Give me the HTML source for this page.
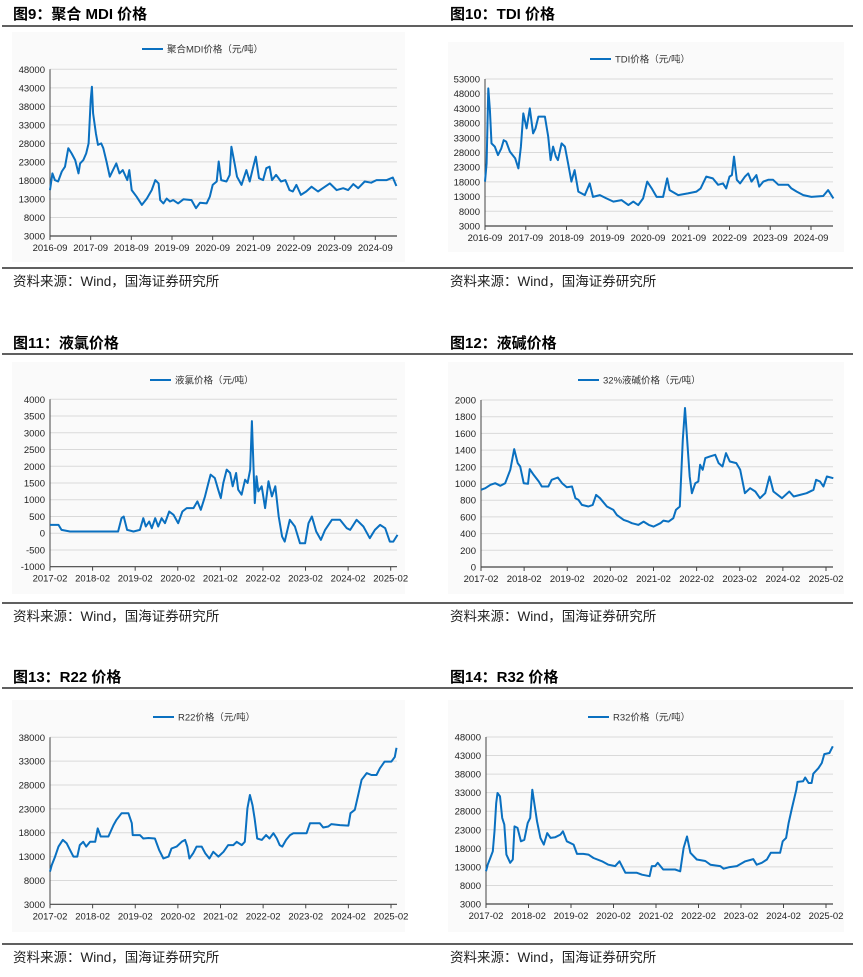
<!DOCTYPE html>
<html><head><meta charset="utf-8">
<style>
html,body{margin:0;padding:0;background:#fff;}
#root{position:relative;width:863px;height:977px;overflow:hidden;}
svg text{font-family:"Liberation Sans","Noto Sans CJK SC",sans-serif;}
</style></head>
<body>
<div id="root">
<svg id="s" width="863" height="977" viewBox="0 0 863 977" xmlns="http://www.w3.org/2000/svg"></svg>
</div>
<script>
// ---------- data (dates in decimal years) ----------
var mdiDates=[2016.67,2016.73,2016.79,2016.87,2016.96,2017.04,2017.12,2017.20,2017.29,2017.37,2017.41,2017.49,2017.56,2017.62,2017.67,2017.70,2017.73,2017.80,2017.85,2017.93,2017.98,2018.06,2018.14,2018.22,2018.30,2018.38,2018.46,2018.57,2018.62,2018.68,2018.80,2018.93,2019.05,2019.17,2019.26,2019.34,2019.38,2019.46,2019.54,2019.62,2019.70,2019.82,2019.95,2020.15,2020.26,2020.36,2020.52,2020.60,2020.67,2020.77,2020.82,2020.88,2021.01,2021.09,2021.13,2021.21,2021.27,2021.38,2021.50,2021.58,2021.66,2021.73,2021.81,2021.91,2021.99,2022.07,2022.13,2022.23,2022.35,2022.46,2022.56,2022.64,2022.73,2022.84,2022.97,2023.10,2023.26,2023.38,2023.55,2023.72,2023.88,2024.00,2024.13,2024.25,2024.41,2024.57,2024.70,2024.95,2025.10,2025.19];
var mdiValues=[15400,19900,18100,17700,20400,21700,26700,25300,23500,19900,22600,23500,25300,28000,39700,43300,36100,30700,27600,28000,26700,23100,19000,20800,22600,19900,20800,18100,20800,15400,13600,11400,13100,15400,18100,17200,12700,11800,13100,12300,12700,11800,12900,12700,10500,12000,11800,13600,16800,17700,23100,18100,17700,19500,27100,22600,19000,16800,20800,17700,21300,24400,18600,18100,21300,21700,18100,19500,17700,18100,15400,15000,16800,14100,15000,16300,15000,15900,17200,15400,15900,15400,17000,15900,17700,17400,18100,18100,18800,16500];

var tdiDates=[2016.67,2016.71,2016.75,2016.79,2016.83,2016.91,2016.99,2017.07,2017.13,2017.19,2017.28,2017.41,2017.49,2017.55,2017.61,2017.69,2017.77,2017.85,2017.91,2017.98,2018.14,2018.22,2018.28,2018.34,2018.41,2018.46,2018.55,2018.63,2018.71,2018.79,2018.87,2018.96,2019.12,2019.24,2019.32,2019.49,2019.65,2019.82,2020.02,2020.19,2020.31,2020.43,2020.55,2020.65,2020.76,2020.88,2021.04,2021.14,2021.20,2021.41,2021.65,2021.86,2021.96,2022.10,2022.26,2022.39,2022.51,2022.59,2022.67,2022.73,2022.78,2022.85,2022.93,2023.05,2023.13,2023.21,2023.33,2023.40,2023.50,2023.62,2023.74,2023.87,2024.11,2024.19,2024.32,2024.48,2024.68,2024.97,2025.09,2025.22];
var tdiValues=[18100,24300,49800,42500,31100,30000,27100,29400,32200,31700,28300,26000,22600,30000,41300,36200,43000,34500,36200,40200,40200,33400,25400,30000,26600,25400,31100,30000,24300,18100,22000,14700,13500,17500,12900,13500,12400,11300,11800,10100,11300,10100,12400,18100,15800,12900,12900,19200,15200,13500,14100,14700,15800,19800,19200,17000,17500,15800,19800,20300,26600,18700,17500,19800,20900,18100,20300,16400,18100,18700,18700,17000,17000,15800,14700,13500,12900,13200,15200,12400];

var clDates=[2017.08,2017.28,2017.35,2017.55,2017.86,2018.25,2018.68,2018.76,2018.81,2018.89,2019.04,2019.19,2019.27,2019.33,2019.41,2019.47,2019.55,2019.62,2019.70,2019.78,2019.88,2019.98,2020.09,2020.19,2020.29,2020.45,2020.54,2020.62,2020.72,2020.80,2020.85,2020.95,2021.03,2021.09,2021.15,2021.23,2021.31,2021.37,2021.45,2021.50,2021.58,2021.66,2021.72,2021.78,2021.82,2021.86,2021.89,2021.93,2021.97,2022.05,2022.13,2022.21,2022.29,2022.37,2022.38,2022.45,2022.53,2022.59,2022.71,2022.83,2022.95,2023.07,2023.15,2023.23,2023.33,2023.44,2023.54,2023.70,2023.89,2024.05,2024.13,2024.28,2024.44,2024.59,2024.71,2024.83,2024.95,2025.06,2025.14,2025.24];
var clValues=[250,250,100,50,50,50,50,450,500,100,50,100,450,200,350,150,450,200,450,300,650,550,300,650,750,750,950,700,1100,1500,1750,1650,1300,1050,1500,1900,1800,1400,1800,1300,1150,1600,1500,1900,3350,1900,900,1700,1250,1400,750,1550,1100,1400,1300,500,-100,-250,400,200,-300,-300,300,500,50,-200,100,400,400,150,100,400,200,-150,100,250,150,-250,-250,-50];

var naohDates=[2017.08,2017.18,2017.30,2017.41,2017.53,2017.64,2017.76,2017.85,2017.93,2017.99,2018.07,2018.17,2018.21,2018.30,2018.42,2018.49,2018.64,2018.72,2018.86,2018.96,2019.07,2019.19,2019.27,2019.34,2019.42,2019.57,2019.67,2019.75,2019.84,2020.00,2020.15,2020.23,2020.39,2020.50,2020.58,2020.73,2020.85,2020.97,2021.08,2021.24,2021.31,2021.43,2021.54,2021.60,2021.69,2021.76,2021.81,2021.87,2021.92,2021.97,2022.05,2022.12,2022.16,2022.22,2022.28,2022.39,2022.51,2022.59,2022.68,2022.76,2022.85,2023.00,2023.09,2023.20,2023.32,2023.44,2023.55,2023.67,2023.77,2023.86,2024.06,2024.23,2024.33,2024.48,2024.63,2024.79,2024.85,2024.94,2025.02,2025.10,2025.25];
var naohValues=[924,944,984,1004,972,1004,1164,1412,1244,1204,1004,996,1172,1104,1024,964,964,1044,1072,1004,956,964,824,804,744,724,744,864,824,724,684,624,564,544,524,504,544,504,484,524,556,544,584,684,724,1524,1904,1444,1084,884,1004,1024,1224,1164,1304,1324,1344,1244,1204,1364,1264,1244,1164,884,944,904,824,884,1084,904,824,904,844,864,884,924,1044,1024,964,1084,1064];

var r22Dates=[2017.08,2017.12,2017.20,2017.28,2017.38,2017.47,2017.55,2017.63,2017.72,2017.78,2017.86,2017.93,2018.02,2018.14,2018.20,2018.27,2018.45,2018.57,2018.64,2018.76,2018.92,2019.00,2019.02,2019.19,2019.27,2019.39,2019.54,2019.64,2019.74,2019.86,2019.93,2020.05,2020.17,2020.25,2020.30,2020.35,2020.44,2020.52,2020.64,2020.72,2020.82,2020.91,2021.03,2021.15,2021.26,2021.38,2021.46,2021.58,2021.65,2021.71,2021.77,2021.83,2021.88,2021.94,2022.05,2022.15,2022.23,2022.32,2022.40,2022.47,2022.53,2022.62,2022.71,2022.79,2023.10,2023.18,2023.41,2023.49,2023.61,2023.68,2023.88,2024.08,2024.13,2024.23,2024.31,2024.39,2024.51,2024.62,2024.74,2024.82,2024.93,2025.09,2025.17,2025.21];
var r22Values=[9850,11200,13000,15100,16500,15800,14400,13000,13000,15400,16100,15100,16100,16100,18900,17200,17200,19600,20700,22100,22100,20000,17500,17500,16800,16900,16800,14400,12600,13000,14700,15100,16100,16500,15100,12600,13700,15100,15100,13700,12600,14000,13000,14000,15400,15400,16100,15400,16100,23100,25900,23800,21000,16800,16500,17500,16800,17900,16800,15400,15100,16500,17500,17900,17900,20000,20000,19100,19300,19800,19600,19500,22100,22800,25900,29100,30500,30100,30100,31500,32900,32900,33900,35800];

var r32Dates=[2017.08,2017.12,2017.18,2017.24,2017.28,2017.32,2017.35,2017.41,2017.46,2017.51,2017.56,2017.65,2017.71,2017.75,2017.82,2017.90,2017.98,2018.06,2018.12,2018.17,2018.22,2018.28,2018.36,2018.44,2018.52,2018.60,2018.71,2018.83,2018.89,2018.98,2019.14,2019.22,2019.37,2019.49,2019.61,2019.81,2019.96,2020.12,2020.22,2020.36,2020.63,2020.75,2020.93,2020.98,2021.06,2021.12,2021.25,2021.53,2021.65,2021.73,2021.81,2021.89,2022.04,2022.24,2022.36,2022.59,2022.67,2022.79,2022.98,2023.18,2023.37,2023.45,2023.57,2023.69,2023.78,2024.00,2024.06,2024.14,2024.20,2024.28,2024.38,2024.41,2024.54,2024.59,2024.67,2024.74,2024.78,2024.90,2024.98,2025.04,2025.16,2025.24];
var r32Values=[11800,13600,15400,17200,22600,30200,32900,32000,26200,24400,16300,14100,15000,23900,23500,19900,20300,24800,26200,33800,29800,25300,20800,19000,22100,20800,21000,21700,22600,19900,19000,16500,16500,16300,15400,14500,13600,13200,14500,11400,11400,10900,10500,13200,13200,14100,12300,12300,11800,18100,21200,16800,15000,14600,13600,13200,12500,12900,13200,14500,15100,13600,14100,15000,16800,16800,19900,20800,24800,28900,33800,35900,36100,37100,35600,35600,38100,39600,41000,43400,43700,45500];

var ticksA=["2016-09","2017-09","2018-09","2019-09","2020-09","2021-09","2022-09","2023-09","2024-09"];
var ticksB=["2017-02","2018-02","2019-02","2020-02","2021-02","2022-02","2023-02","2024-02","2025-02"];
var yTicks1=[3000,8000,13000,18000,23000,28000,33000,38000,43000,48000];
var yTicks2=[3000,8000,13000,18000,23000,28000,33000,38000,43000,48000,53000];
var yTicks3=[-1000,-500,0,500,1000,1500,2000,2500,3000,3500,4000];
var yTicks4=[0,200,400,600,800,1000,1200,1400,1600,1800,2000];
var yTicks5=[3000,8000,13000,18000,23000,28000,33000,38000];

// ---------- drawing ----------
var NS="http://www.w3.org/2000/svg";
var svg=document.getElementById('s');
function mk(tag,attrs,parent){var e=document.createElementNS(NS,tag);for(var k in attrs)e.setAttribute(k,attrs[k]);(parent||svg).appendChild(e);return e;}

function panel(p){
  var g=mk('g',{});
  
  
  var t=mk('text',{x:p.tx,y:p.ty,'font-size':15,'font-weight':'bold',fill:'#000'},g);
  t.textContent=p.title;
  
  
  var r1=mk('line',{x1:p.rx1,x2:p.rx2,y1:p.ry1,y2:p.ry1,stroke:'#000','stroke-width':1.3},g);
  
  
  var bg=mk('rect',{x:p.bx,y:p.by,width:p.bw,height:p.bh,fill:'#fafafa'},g);
  
  
  var r2=mk('line',{x1:p.rx1,x2:p.rx2,y1:p.ry2,y2:p.ry2,stroke:'#000','stroke-width':1.3},g);
  
  
  var src=mk('text',{x:p.tx,y:p.ry2+18,'font-size':13.5,fill:'#222'},g);
  src.textContent='资料来源：Wind，国海证券研究所';
  
  

  var ymin=p.yt[0],ymax=p.yt[p.yt.length-1];
  function ys(v){return p.bottom-(v-ymin)/(ymax-ymin)*(p.bottom-p.top);}
  var ppy=(p.lastTickX-p.left)/8;
  function xs(d){return p.left+(d-p.t0)*ppy;}
  // grid + y labels
  for(var i=0;i<p.yt.length;i++){
    var y=ys(p.yt[i]);
    if(i>0){var gl=mk('line',{x1:p.left,x2:p.right,y1:y,y2:y,stroke:'#d9d9d9','stroke-width':1},g);
      
      }
    var lb=mk('text',{x:p.left-5,y:y+3.5,'font-size':9.5,'text-anchor':'end',fill:'#222'},g);
    lb.textContent=p.yt[i];
    
    
  }
  // axes
  var ax=mk('line',{x1:p.left,x2:p.left,y1:p.top,y2:p.bottom,stroke:'#444','stroke-width':1},g);
  
  
  var bx=mk('line',{x1:p.left,x2:p.right,y1:p.bottom,y2:p.bottom,stroke:'#444','stroke-width':1.2},g);
  
  
  for(var j=0;j<p.xt.length;j++){
    var x=xs(p.t0+j);
    var tk=mk('line',{x1:x,x2:x,y1:p.bottom,y2:p.bottom+4,stroke:'#444','stroke-width':1},g);
    
    
    var xl=mk('text',{x:x,y:p.bottom+15,'font-size':9.5,'text-anchor':'middle',fill:'#222'},g);
    xl.textContent=p.xt[j];
    
    
  }
  // series
  var d='';
  for(var k=0;k<p.dates.length;k++){d+=(k?'L':'M')+xs(p.dates[k]).toFixed(1)+','+ys(p.values[k]).toFixed(1);}
  var pl=mk('path',{d:d,fill:'none',stroke:'#0a70c0','stroke-width':2,'stroke-linejoin':'round'},g);
  
  
  // legend
  var ll=mk('line',{x1:p.lx,x2:p.lx+21,y1:p.ly,y2:p.ly,stroke:'#0a70c0','stroke-width':2},g);
  
  
  var lt=mk('text',{x:p.lx+25,y:p.ly+3.5,'font-size':9.5,fill:'#333'},g);
  lt.textContent=p.legend;
  
  
}

panel({id:'mdi',title:'图9：聚合 MDI 价格',tx:13,ty:19,rx1:2,rx2:430,ry1:26,ry2:268,bx:12,by:32,bw:393,bh:230,
  left:50,right:397,top:69.3,bottom:236,lastTickX:375.3,t0:2016.67,yt:yTicks1,xt:ticksA,dates:mdiDates,values:mdiValues,
  lx:142,ly:49,legend:'聚合MDI价格（元/吨）'});
panel({id:'tdi',title:'图10：TDI 价格',tx:450,ty:19,rx1:430,rx2:853,ry1:26,ry2:268,bx:448,by:42,bw:396,bh:210,
  left:485,right:833,top:79,bottom:226,lastTickX:811,t0:2016.67,yt:yTicks2,xt:ticksA,dates:tdiDates,values:tdiValues,
  lx:590,ly:59,legend:'TDI价格（元/吨）'});
panel({id:'liquid-chlorine',title:'图11：液氯价格',tx:13,ty:348,rx1:2,rx2:430,ry1:354,ry2:603,bx:12,by:362,bw:393,bh:232,
  left:50,right:397,top:399.3,bottom:566.7,lastTickX:390.7,t0:2017.08,yt:yTicks3,xt:ticksB,dates:clDates,values:clValues,
  lx:150,ly:380,legend:'液氯价格（元/吨）'});
panel({id:'caustic-soda',title:'图12：液碱价格',tx:450,ty:348,rx1:430,rx2:853,ry1:354,ry2:603,bx:448,by:362,bw:396,bh:232,
  left:481,right:833,top:400,bottom:567,lastTickX:826,t0:2017.08,yt:yTicks4,xt:ticksB,dates:naohDates,values:naohValues,
  lx:578,ly:380,legend:'32%液碱价格（元/吨）'});
panel({id:'r22',title:'图13：R22 价格',tx:13,ty:682,rx1:2,rx2:430,ry1:688,ry2:944,bx:12,by:700,bw:393,bh:232,
  left:50,right:397,top:737.3,bottom:904.3,lastTickX:391,t0:2017.08,yt:yTicks5,xt:ticksB,dates:r22Dates,values:r22Values,
  lx:153,ly:717,legend:'R22价格（元/吨）'});
panel({id:'r32',title:'图14：R32 价格',tx:450,ty:682,rx1:430,rx2:853,ry1:688,ry2:944,bx:448,by:700,bw:396,bh:232,
  left:486,right:833,top:737,bottom:904,lastTickX:826,t0:2017.08,yt:yTicks1,xt:ticksB,dates:r32Dates,values:r32Values,
  lx:588,ly:717,legend:'R32价格（元/吨）'});
</script>
</body></html>
